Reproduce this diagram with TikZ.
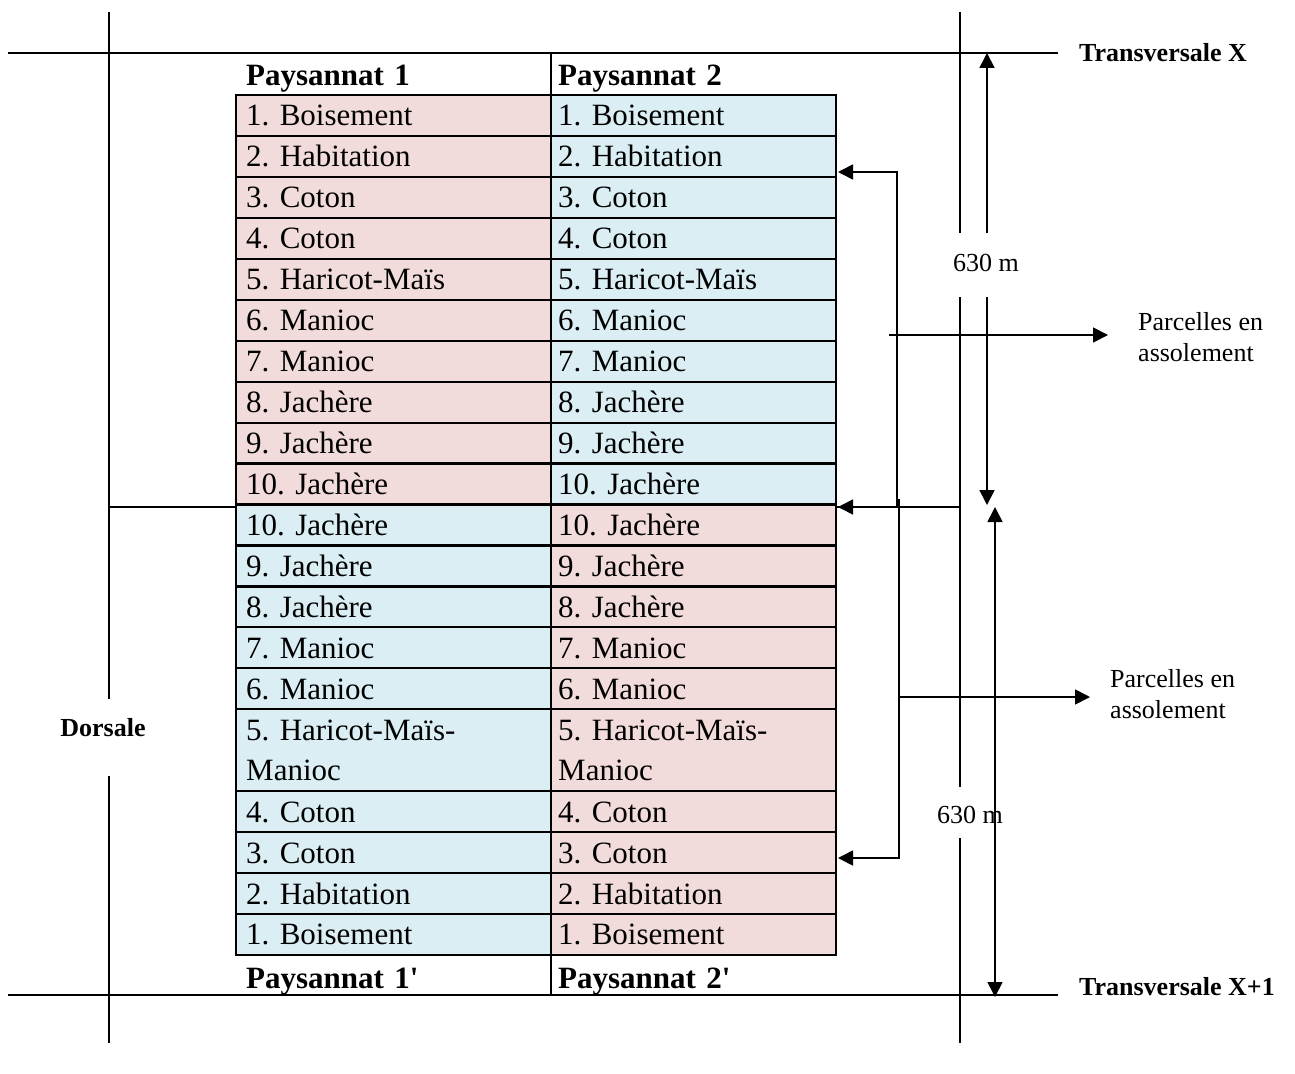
\documentclass[tikz,border=0pt]{standalone}
\usepackage{fontspec}
\setmainfont{Liberation Serif}
\usetikzlibrary{arrows.meta}
\frenchspacing

\definecolor{rosecell}{RGB}{242,220,219}
\definecolor{bleucell}{RGB}{218,238,243}
\newcommand{\hrang}{40.95}

\tikzset{
  route/.style={line width=2.2pt},
  cadre/.style={line width=2.2pt},
  trait/.style={line width=1.7pt},
  texte/.style={anchor=base west, inner sep=0pt, text width=280pt, align=left,
    font=\fontsize{31}{40}\selectfont},
  titre/.style={texte, font=\fontsize{31}{40}\selectfont\bfseries},
  legende/.style={inner sep=0pt, font=\fontsize{26}{31}\selectfont},
  rue/.style={inner sep=0pt, font=\fontsize{26}{31}\selectfont\bfseries}
}

\begin{document}
\begin{tikzpicture}[x=1pt, y=-1pt, >={Triangle[length=15pt,width=15pt]}]
\useasboundingbox (0,0) rectangle (1295,1073);

% Draw roads
\draw[route] (8,53) -- (1058,53);
\draw[route] (8,995) -- (1058,995);
\draw[route] (109,12) -- (109,699);
\draw[route] (109,776) -- (109,1043);
\draw[route] (960,12) -- (960,233);
\draw[route] (960,297) -- (960,787);
\draw[route] (960,838) -- (960,1043);
\draw[route] (109,507) -- (960,507);

% Column divider above and below the table
\draw[cadre] (551,53) -- (551,95);
\draw[cadre] (551,955) -- (551,995);

% Upper plots
\foreach \culture [count=\i] in {Boisement,Habitation,Coton,Coton,Haricot-Maïs,Manioc,Manioc,Jachère,Jachère,Jachère}{
  \fill[rosecell] (236,{95+(\i-1)*\hrang}) rectangle (551,{95+\i*\hrang});
  \fill[bleucell] (551,{95+(\i-1)*\hrang}) rectangle (836,{95+\i*\hrang});
  \node[texte] (g\i) at (246,{85+\i*\hrang}) {\i. \culture};
  \node[texte] (d\i) at (558,{85+\i*\hrang}) {\i. \culture};
}

% Lower plots
\foreach \n/\culture/\u/\h in {10/Jachère/10/1,9/Jachère/11/1,8/Jachère/12/1,7/Manioc/13/1,6/Manioc/14/1,5/{Haricot-Maïs-\\Manioc}/15/2,4/Coton/17/1,3/Coton/18/1,2/Habitation/19/1,1/Boisement/20/1}{
  \fill[bleucell] (236,{95+\u*\hrang}) rectangle (551,{95+(\u+\h)*\hrang});
  \fill[rosecell] (551,{95+\u*\hrang}) rectangle (836,{95+(\u+\h)*\hrang});
  \node[texte] (gb\n) at (246,{85+(\u+1)*\hrang}) {\n. \culture};
  \node[texte] (db\n) at (558,{85+(\u+1)*\hrang}) {\n. \culture};
}

% Table rules
\foreach \k in {1,...,15,17,18,19,20}
  \draw[cadre] (236,{95+\k*\hrang}) -- (836,{95+\k*\hrang});
\draw[cadre] (551,95) -- (551,{95+21*\hrang});
\draw[cadre] (236,95) rectangle (836,{95+21*\hrang});

% Headers
\node[titre] (pay1) at (246,85) {Paysannat 1};
\node[titre] (pay2) at (558,85) {Paysannat 2};
\node[titre] (pay1b) at (246,988) {Paysannat 1\textquotesingle};
\node[titre] (pay2b) at (558,988) {Paysannat 2\textquotesingle};

% Road names and labels
\node[rue, anchor=base west] (transX) at (1079,62) {Transversale X};
\node[rue, anchor=base west] (transX1) at (1079,995) {Transversale X+1};
\node[rue, anchor=base] (dorsale) at (103,736) {Dorsale};
\node[legende, anchor=base west] (long1) at (953,271) {630 m};
\node[legende, anchor=base west] (long2) at (937,823) {630 m};
\node[legende, align=left, anchor=north west] (parc1) at (1138,312) {Parcelles en\\assolement};
\node[legende, align=left, anchor=north west] (parc2) at (1110,669) {Parcelles en\\assolement};

% Brackets pointing at the table
\coordinate (bord) at (838,0);
\coordinate (acc1h) at (897,172);
\coordinate (acc1b) at (897,507);
\coordinate (acc2h) at (899,499);
\coordinate (acc2b) at (899,858);
\draw[trait, <->] (acc1h -| bord) -- (acc1h) -- (acc1b) -- (acc1b -| bord);
\draw[trait, ->] (acc2h) -- (acc2b) -- (acc2b -| bord);

% Arrows to the labels
\coordinate (sort1) at (889,335);
\coordinate (fin1) at (1108,335);
\coordinate (sort2) at (899,697);
\coordinate (fin2) at (1090,697);
\draw[trait, ->] (sort1) -- (fin1);
\draw[trait, ->] (sort2) -- (fin2);

% Distances
\coordinate (cote1a) at (987,233);
\coordinate (cote1b) at (987,53);
\coordinate (cote1c) at (987,297);
\coordinate (cote1d) at (987,505);
\coordinate (cote2a) at (995,507);
\coordinate (cote2b) at (995,997);
\draw[trait, ->] (cote1a) -- (cote1b);
\draw[trait, ->] (cote1c) -- (cote1d);
\draw[trait, <->] (cote2a) -- (cote2b);

\end{tikzpicture}
\end{document}
